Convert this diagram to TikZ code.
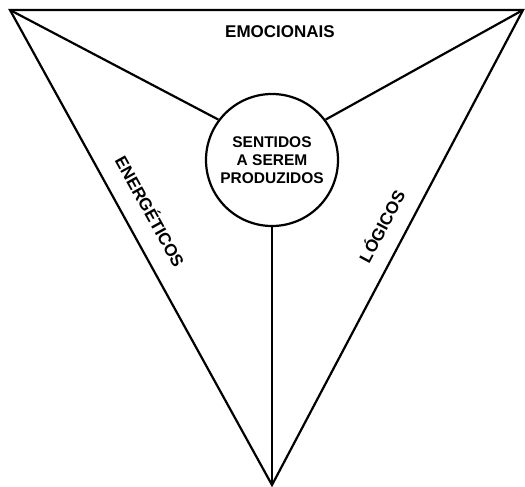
\documentclass[tikz,border=0pt]{standalone}
\usepackage{fontspec}
\setmainfont{Liberation Sans}
\newfontfamily\heavysans{Liberation Sans Bold}
\usepackage{tikz}

\begin{document}
\begin{tikzpicture}[x=1pt, y=-1pt, line width=2.2pt, line join=miter,
    center/.style={draw, circle, minimum size=132pt, inner sep=0pt, align=center,
        font=\heavysans\fontsize{15.5}{18.3}\selectfont},
    label/.style={font=\heavysans\fontsize{17}{20}\selectfont, inner sep=0pt}]

    \useasboundingbox (0,0) rectangle (525,487);

    \coordinate (TL) at (10,10);
    \coordinate (TR) at (523,10);
    \coordinate (BT) at (272,485);

    \node[center] (Sent) at (272,160)
    { SENTIDOS\\A SEREM\\PRODUZIDOS };

    \node[label] (Emoc) at (280,32)
    { EMOCIONAIS };

    \node[label, rotate=-61] (Ener) at (151,211)
    { ENERGÉTICOS };

    \node[label, rotate=62] (Logi) at (381,226)
    { LÓGICOS };

    \draw (TL) -- (TR) -- (BT) -- cycle;

    \path[draw]
    {
        (TL) edge (Sent.143)
        (TR) edge (Sent.37)
        (BT) edge (Sent)
    };
\end{tikzpicture}
\end{document}
